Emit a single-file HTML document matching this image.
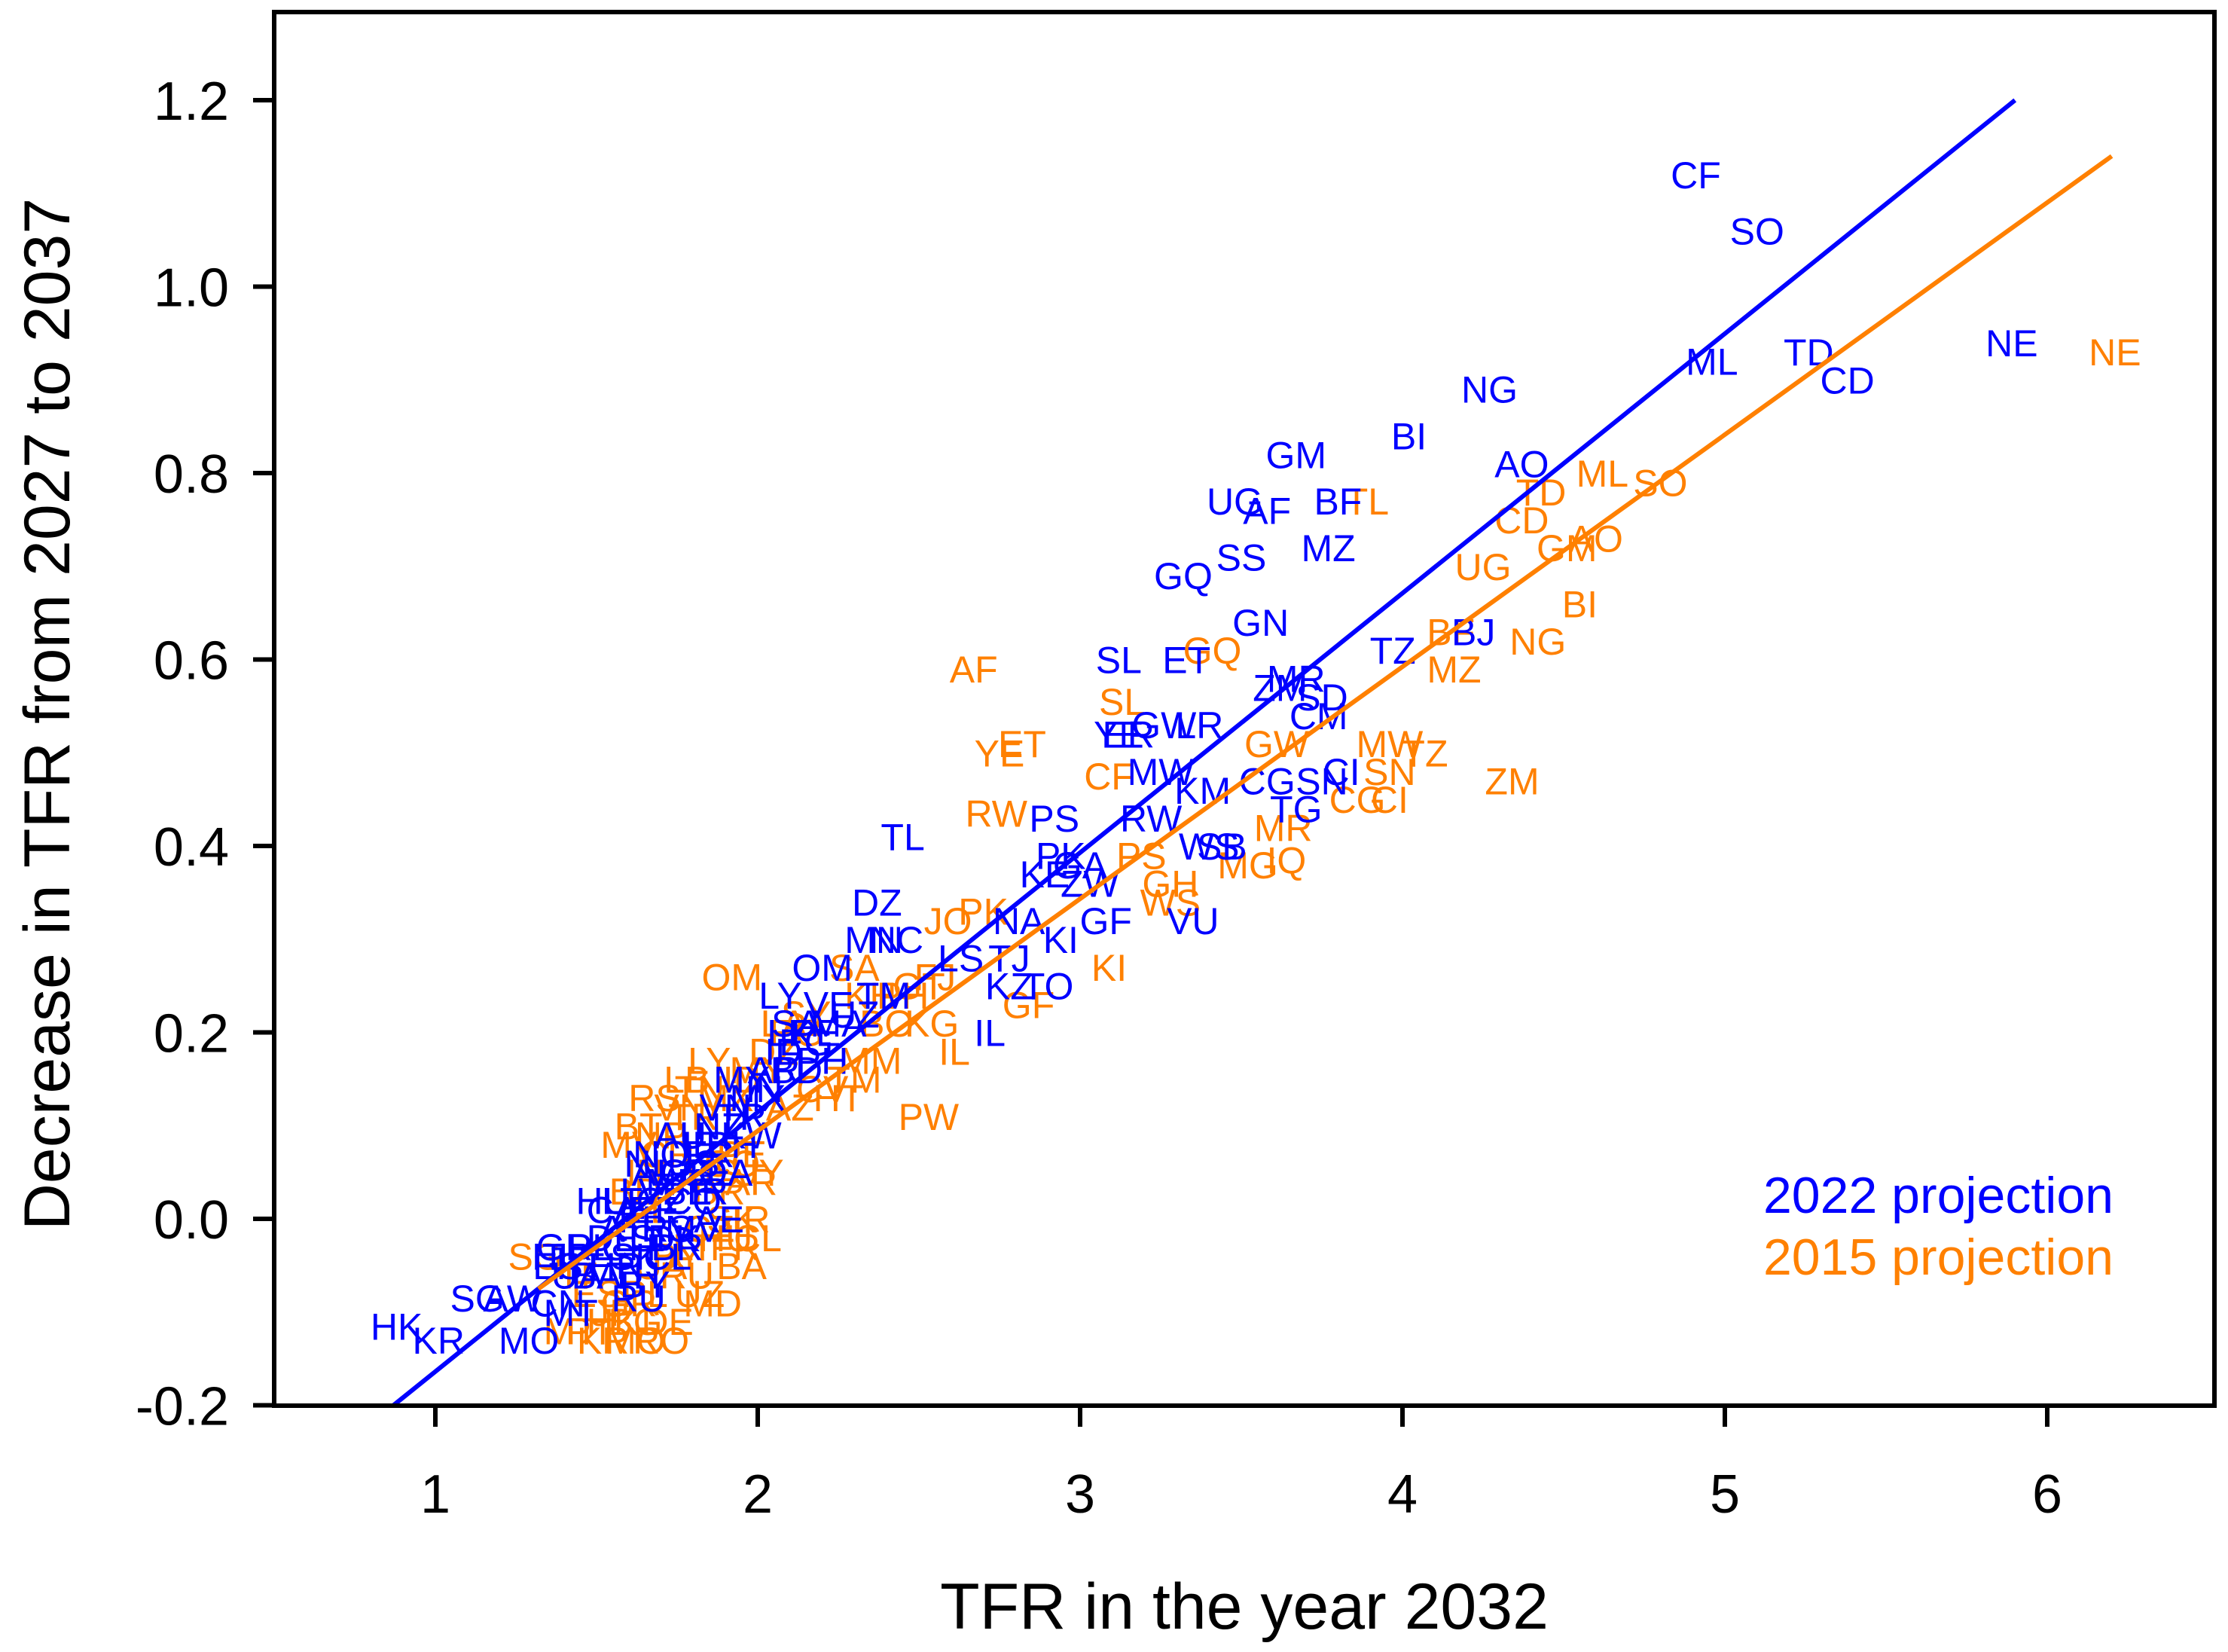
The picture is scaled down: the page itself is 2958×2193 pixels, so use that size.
<!DOCTYPE html>
<html><head><meta charset="utf-8"><style>
html,body{margin:0;padding:0;background:#fff;}
svg{display:block;font-family:"Liberation Sans",Arial,sans-serif;}
</style></head><body>
<svg id="chart" width="2958" height="2193" viewBox="0 0 2958 2193" xmlns="http://www.w3.org/2000/svg">
<rect x="0" y="0" width="2958" height="2193" fill="#fff"/>
<g id="labels2015"></g>
<g id="labels2022"></g>
<g id="lines"></g>
<g id="axes"></g>
<text x="2806" y="1610" font-size="68" fill="#0000ff" text-anchor="end">2022 projection</text>
<text x="2806" y="1692" font-size="68" fill="#ff8000" text-anchor="end">2015 projection</text>
<text x="1652" y="2162" font-size="86" text-anchor="middle" fill="#000">TFR in the year 2032</text>
<text x="0" y="0" font-size="86" text-anchor="middle" fill="#000" transform="translate(92,948) rotate(-90)">Decrease in TFR from 2027 to 2037</text>
</svg>
<script>
const xTicks=[1,2,3,4,5,6];
const yTicks=[-0.2,0,0.2,0.4,0.6,0.8,1.0,1.2];
const yTickLabels=["-0.2","0.0","0.2","0.4","0.6","0.8","1.0","1.2"];
const codes2022=["CF","SO","ML","TD","CD","NE","NG","BI","GM","AO","UG","AF","BF","MZ","SS","GQ","GN","TZ","BJ","SL","ET","ZM","MR","SD","CM","YE","ER","GW","LR","MW","KM","CG","SN","CI","TG","PS","RW","SB","WS","TL","PK","KE","GA","ZW","DZ","NA","KI","GF","VU","MN","NC","OM","LS","TJ","KZ","TO","LY","SA","IL","TM","HK","KR","MO","SG","AW","RU",
"IT","ES","JP","PT","GR","PL","UA","BY","MT","CN","DE","AT","CH","FI","CA","HU","LT","LV","EE","CZ","SK","HR","SI","RS","BA","MK","AL","US","FR","GB","IE","AU","NZ","SE","NO","DK","NL","BE","CL","BR","CO","TH","VN","IR","TR","MX","AR","IN","ID","MY","LK","EG","PH","BD","MA","UZ","PE","VE","KW","QA","AE","BH","MV"];
const tfr2022=[4.91,5.10,4.96,5.26,5.38,5.89,4.27,4.02,3.67,4.37,3.48,3.58,3.80,3.77,3.50,3.32,3.56,3.97,4.22,3.12,3.33,3.62,3.67,3.75,3.74,3.12,3.15,3.26,3.37,3.25,3.38,3.58,3.75,3.81,3.67,2.92,3.22,3.44,3.40,2.45,2.94,2.89,3.00,3.03,2.37,2.81,2.94,3.08,3.35,2.36,2.43,2.20,2.63,2.78,2.78,2.90,2.07,2.12,2.72,2.39,0.88,1.01,1.29,1.13,1.24,1.63,
1.35,1.38,1.42,1.45,1.40,1.48,1.44,1.65,1.42,1.38,1.55,1.58,1.60,1.62,1.55,1.52,1.58,1.64,1.68,1.70,1.62,1.56,1.66,1.72,1.50,1.74,1.68,1.80,1.85,1.78,1.82,1.76,1.88,1.84,1.70,1.74,1.66,1.78,1.72,1.75,1.80,1.62,1.90,1.85,1.95,2.00,2.05,2.02,2.08,1.95,2.10,2.15,2.20,2.12,2.25,2.30,2.18,2.22,1.98,1.90,1.88,1.92,1.80];
const dec2022=[1.12,1.06,0.92,0.93,0.90,0.94,0.89,0.84,0.82,0.81,0.77,0.76,0.77,0.72,0.71,0.69,0.64,0.61,0.63,0.60,0.60,0.57,0.58,0.56,0.54,0.52,0.52,0.53,0.53,0.48,0.46,0.47,0.47,0.48,0.44,0.43,0.43,0.40,0.40,0.41,0.39,0.37,0.38,0.36,0.34,0.32,0.30,0.32,0.32,0.30,0.30,0.27,0.28,0.28,0.25,0.25,0.24,0.21,0.20,0.24,-0.115,-0.13,-0.13,-0.085,-0.085,-0.085,
-0.04,-0.05,-0.04,-0.05,-0.03,-0.03,-0.06,-0.07,-0.10,-0.09,-0.02,-0.01,-0.03,0.00,0.01,0.02,0.02,0.03,0.01,0.02,-0.04,-0.05,-0.02,-0.01,-0.06,0.04,0.05,0.06,0.07,0.05,0.08,0.09,0.10,0.05,0.07,-0.02,0.06,0.03,-0.04,-0.03,0.02,-0.06,0.12,0.03,0.11,0.13,0.16,0.14,0.18,0.15,0.20,0.19,0.17,0.16,0.21,0.22,0.20,0.23,0.09,0.05,0.00,0.08,-0.01];
const codes2015=["NE","SO","ML","TD","TL","CD","GM","AO","UG","BI","BF","NG","MZ","GQ","AF","SL","ET","YE","MW","TZ","GW","ZM","SN","CF","RW","CG","CI","MR","PS","MG","IQ","GH","WS","PK","JO","KI","GF","OM","KG","IL","PW","BT","MO",
"SG","IT","ES","JP","PT","GR","PL","UA","DE","KR","HK","MT","RU","BY","LT","CZ","HU","SK","UZ","BA","MD","RO","BG","AL","RS","MV","NP","LY","LB","TN","VN","CR","IN","BD","TR","MX","ID","MY","DZ","LA","EG","SY","AZ","CV","TM","HT","MM","BO","PH","GT","FJ","KH","SA","AR","BR","PE","CL","CO","UY","US","FR","IR"];
const tfr2015=[6.21,4.80,4.62,4.43,3.89,4.37,4.51,4.60,4.25,4.55,4.15,4.42,4.16,3.41,2.67,3.13,2.82,2.75,3.96,4.07,3.61,4.34,3.96,3.09,2.74,3.86,3.96,3.63,3.19,3.52,3.64,3.28,3.28,2.70,2.59,3.09,2.84,1.92,2.54,2.61,2.53,1.63,1.62,
1.31,1.45,1.50,1.55,1.48,1.60,1.65,1.70,1.72,1.52,1.55,1.42,1.78,1.75,1.80,1.85,1.90,1.92,1.82,1.95,1.86,1.70,1.62,1.66,1.68,1.60,1.70,1.85,1.78,1.82,1.76,1.72,1.65,1.62,1.80,1.90,1.95,2.00,2.05,2.08,2.12,2.15,2.10,2.20,2.30,2.25,2.35,2.40,2.45,2.50,2.55,2.35,2.30,1.98,1.88,1.95,2.00,1.92,2.00,1.86,1.93,1.98];
const dec2015=[0.93,0.79,0.80,0.78,0.77,0.75,0.72,0.73,0.70,0.66,0.63,0.62,0.59,0.61,0.59,0.555,0.51,0.50,0.51,0.50,0.51,0.47,0.48,0.475,0.435,0.45,0.45,0.42,0.39,0.38,0.385,0.36,0.34,0.33,0.32,0.27,0.23,0.26,0.21,0.18,0.11,0.10,-0.13,
-0.04,-0.06,-0.08,-0.10,-0.12,-0.09,-0.08,-0.05,-0.11,-0.13,-0.11,-0.12,-0.06,-0.04,-0.03,-0.01,-0.02,0.00,-0.08,-0.05,-0.09,-0.13,-0.11,0.01,0.13,0.08,0.09,0.17,0.15,0.14,0.12,0.07,0.05,0.03,0.11,0.13,0.15,0.16,0.18,0.21,0.20,0.22,0.12,0.14,0.15,0.13,0.17,0.21,0.24,0.25,0.26,0.24,0.27,0.04,0.03,0.07,-0.02,0.06,0.05,0.05,-0.03,0.00];
const fitX2022=[0.87,5.9];
const fitY2022=[-0.2,1.2];
const fitX2015=[1.32,6.2];
const fitY2015=[-0.075,1.14];

const NS="http://www.w3.org/2000/svg";
const X0=578, XS=428, Y0=1618, YS=1237.5;
const L=364, R=2940, T=16, B=1866;
function sx(v){return X0+XS*(v-1);}
function sy(v){return Y0-YS*v;}
function mk(tag,attrs,parent){const e=document.createElementNS(NS,tag);for(const k in attrs)e.setAttribute(k,attrs[k]);parent.appendChild(e);return e;}

const axes=document.getElementById('axes');
const frame=mk('rect',{x:L,y:T,width:R-L,height:B-T,fill:'none',stroke:'#000','stroke-width':6},axes);


xTicks.forEach(v=>{
  const t=mk('line',{x1:sx(v),x2:sx(v),y1:B,y2:B+28,stroke:'#000','stroke-width':6},axes);
  
  
  const l=mk('text',{x:sx(v),y:2008,'font-size':72,'text-anchor':'middle',fill:'#000'},axes);
  
  
  l.textContent=String(v);
});
yTicks.forEach((v,i)=>{
  const t=mk('line',{x1:L-28,x2:L,y1:sy(v),y2:sy(v),stroke:'#000','stroke-width':6},axes);
  
  
  const l=mk('text',{x:304,y:sy(v)+26,'font-size':72,'text-anchor':'end',fill:'#000'},axes);
  
  
  l.textContent=yTickLabels[i];
});

function drawLabels(gid,codes,xs,ys,color,nm){
  const g=document.getElementById(gid);
  codes.forEach((c,i)=>{
    const t=mk('text',{x:sx(xs[i]),y:sy(ys[i])+18,'font-size':50,'text-anchor':'middle',fill:color},g);
    
    
    t.textContent=c;
  });
}
drawLabels('labels2015',codes2015,tfr2015,dec2015,'#ff8000','country-2015');
drawLabels('labels2022',codes2022,tfr2022,dec2022,'#0000ff','country-2022');

const lines=document.getElementById('lines');
const l22=mk('line',{x1:sx(fitX2022[0]),y1:sy(fitY2022[0]),x2:sx(fitX2022[1]),y2:sy(fitY2022[1]),stroke:'#0000ff','stroke-width':6},lines);


const l15=mk('line',{x1:sx(fitX2015[0]),y1:sy(fitY2015[0]),x2:sx(fitX2015[1]),y2:sy(fitY2015[1]),stroke:'#ff8000','stroke-width':6},lines);


</script>
</body></html>
